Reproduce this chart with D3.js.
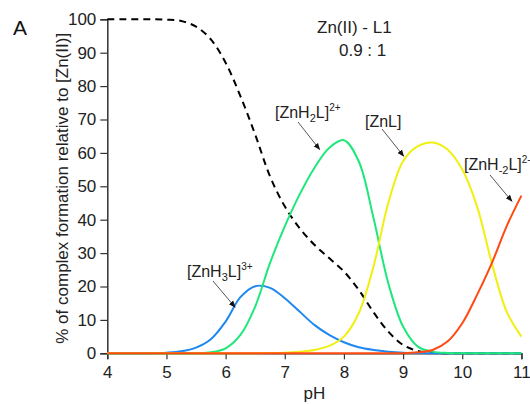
<!DOCTYPE html>
<html>
<head>
<meta charset="utf-8">
<script src="https://cdn.jsdelivr.net/npm/d3@7"></script>
<style>
  body { margin: 0; background: #fff; }
  svg { display: block; font-family: "Liberation Sans", Arial, sans-serif; }
</style>
</head>
<body>
<div id="chart"></div>
<script>
// pH grid shared by every species
var pH = [4, 4.25, 4.5, 4.75, 5, 5.25, 5.5, 5.75, 6, 6.25, 6.5, 6.75, 7, 7.25, 7.5,
          7.75, 8, 8.25, 8.5, 8.75, 9, 9.25, 9.5, 9.75, 10, 10.25, 10.5, 10.75, 11];

// % of species
var freeZn  = [100, 100, 100, 100, 99.9, 99.5, 97.8, 94, 87, 77, 65.5, 53, 44, 37.5, 32.5,
               28.5, 24.5, 19, 12.3, 6.5, 2.5, 0.7, 0.2, 0, 0, 0, 0, 0, 0];
var znH3L   = [0, 0, 0, 0.05, 0.2, 0.6, 1.7, 4.2, 9.5, 16.8, 20.1, 19.6, 16.5, 12.5, 8.5,
               5.5, 3.3, 1.8, 1, 0.5, 0.2, 0.1, 0, 0, 0, 0, 0, 0, 0];
var znH2L   = [0, 0, 0, 0, 0, 0, 0.05, 0.3, 1.5, 5.5, 14, 27, 38, 47.5, 55.5,
               61.5, 63.8, 57.5, 40.5, 21, 8, 2, 0.5, 0.1, 0, 0, 0, 0, 0];
var znL     = [0, 0, 0, 0, 0, 0, 0, 0, 0, 0, 0.05, 0.1, 0.2, 0.5, 1,
               2.2, 5, 12, 26, 45, 57.5, 62, 63.1, 61, 55, 44, 27, 12.5, 5];
var znHm2L  = [0, 0, 0, 0, 0, 0, 0, 0, 0, 0, 0, 0, 0, 0, 0,
               0, 0, 0, 0, 0, 0, 0.3, 1, 3.5, 9, 17.5, 27, 38, 47.2];

var xTicks = [4, 5, 6, 7, 8, 9, 10, 11];
var yTicks = [0, 10, 20, 30, 40, 50, 60, 70, 80, 90, 100];

var width = 530, height = 404;
var margin = { left: 107.3, right: 8.6, top: 19.3, bottom: 50.7 };

var svg = d3.select("#chart").append("svg")
  .attr("width", width)
  .attr("height", height);

var x = d3.scaleLinear().domain([4, 11]).range([margin.left, width - margin.right]);
var y = d3.scaleLinear().domain([0, 100]).range([height - margin.bottom, margin.top]);

// axes: major + minor ticks pointing out
var axisColor = "#333";
var gx = svg.append("g").attr("transform", "translate(0," + y(0) + ")");
gx.call(d3.axisBottom(x).tickValues(d3.range(4, 11.01, 0.5)).tickSize(3.5).tickFormat(""));
gx.call(d3.axisBottom(x).tickValues(xTicks).tickSize(6).tickPadding(4).tickFormat(d3.format("d")));

var gy = svg.append("g").attr("transform", "translate(" + x(4) + ",0)");
gy.call(d3.axisLeft(y).tickValues(d3.range(0, 101, 5)).tickSize(4).tickFormat(""));
gy.call(d3.axisLeft(y).tickValues(yTicks).tickSize(7).tickPadding(4).tickFormat(d3.format("d")));

svg.selectAll(".domain").attr("stroke", axisColor).attr("stroke-width", 1.5);
svg.selectAll(".tick line").attr("stroke", axisColor).attr("stroke-width", 1.2);
svg.selectAll(".tick text").attr("font-size", 17).attr("fill", "#222")
  .attr("font-family", "Liberation Sans, Arial, sans-serif");
gx.selectAll(".tick text").attr("dy", "0.85em");

// axis titles
svg.append("text")
  .attr("transform", "translate(68," + ((y(0) + y(100)) / 2 + 2) + ") rotate(-90)")
  .attr("text-anchor", "middle")
  .attr("font-size", 17)
  .attr("fill", "#222")
  .text("% of complex formation relative to [Zn(II)]");

svg.append("text")
  .attr("x", x(7.5)).attr("y", 399)
  .attr("text-anchor", "middle")
  .attr("font-size", 17)
  .attr("fill", "#222")
  .text("pH");

svg.append("text")
  .attr("x", 13).attr("y", 35)
  .attr("font-size", 21)
  .attr("fill", "#111")
  .text("A");

svg.append("text").attr("x", 317).attr("y", 33)
  .attr("font-size", 17).attr("fill", "#222").text("Zn(II) - L1");
svg.append("text").attr("x", 339).attr("y", 56)
  .attr("font-size", 17).attr("fill", "#222").text("0.9 : 1");

// curves
var series = [
  { values: freeZn, color: "#000", dash: "7,5" },
  { values: znH3L,  color: "#1e88f0", dash: null },
  { values: znH2L,  color: "#1ee87a", dash: null },
  { values: znL,    color: "#f0ef10", dash: null },
  { values: znHm2L, color: "#ff4a12", dash: null }
];

var line = d3.line()
  .x(function(d) { return x(d[0]); })
  .y(function(d) { return y(Math.max(0, d[1])); })
  .curve(d3.curveCatmullRom.alpha(0.5));

series.forEach(function(s) {
  svg.append("path")
    .datum(pH.map(function(p, i) { return [p, s.values[i]]; }))
    .attr("fill", "none")
    .attr("stroke", s.color)
    .attr("stroke-width", 2)
    .attr("stroke-dasharray", s.dash)
    .attr("d", line);
});

// species labels with arrows
svg.append("defs").append("marker")
  .attr("id", "arrow")
  .attr("viewBox", "0 0 10 10")
  .attr("refX", 9).attr("refY", 5)
  .attr("markerWidth", 7).attr("markerHeight", 7)
  .attr("markerUnits", "userSpaceOnUse")
  .attr("orient", "auto")
  .append("path")
  .attr("d", "M0,1 L10,5 L0,9 Z")
  .attr("fill", "#111");

var labels = [
  { base: "[ZnH", sub: "3", tail: "L]", sup: "3+", lx: 187, ly: 277, ax: 213, ay: 281, tx: 6.16, tv: 13.8 },
  { base: "[ZnH", sub: "2", tail: "L]", sup: "2+", lx: 275, ly: 118, ax: 298, ay: 122, tx: 7.59, tv: 61 },
  { base: "[ZnL]", sub: "", tail: "", sup: "", lx: 365, ly: 127, ax: 382, ay: 129, tx: 9.01, tv: 59 },
  { base: "[ZnH", sub: "-2", tail: "L]", sup: "2-", lx: 464, ly: 170, ax: 490, ay: 175, tx: 10.84, tv: 45.5 }
];

labels.forEach(function(l) {
  svg.append("line")
    .attr("x1", l.ax).attr("y1", l.ay)
    .attr("x2", x(l.tx)).attr("y2", y(l.tv))
    .attr("stroke", "#444")
    .attr("stroke-width", 0.9)
    .attr("marker-end", "url(#arrow)");

  var t = svg.append("text")
    .attr("x", l.lx).attr("y", l.ly)
    .attr("font-size", 16)
    .attr("fill", "#222");
  t.append("tspan").text(l.base);
  if (l.sub) {
    t.append("tspan").attr("font-size", 11).attr("dy", 4).text(l.sub);
    t.append("tspan").attr("dy", -4).text(l.tail);
    t.append("tspan").attr("font-size", 10).attr("dy", -7).text(l.sup);
  }
});
</script>
</body>
</html>
